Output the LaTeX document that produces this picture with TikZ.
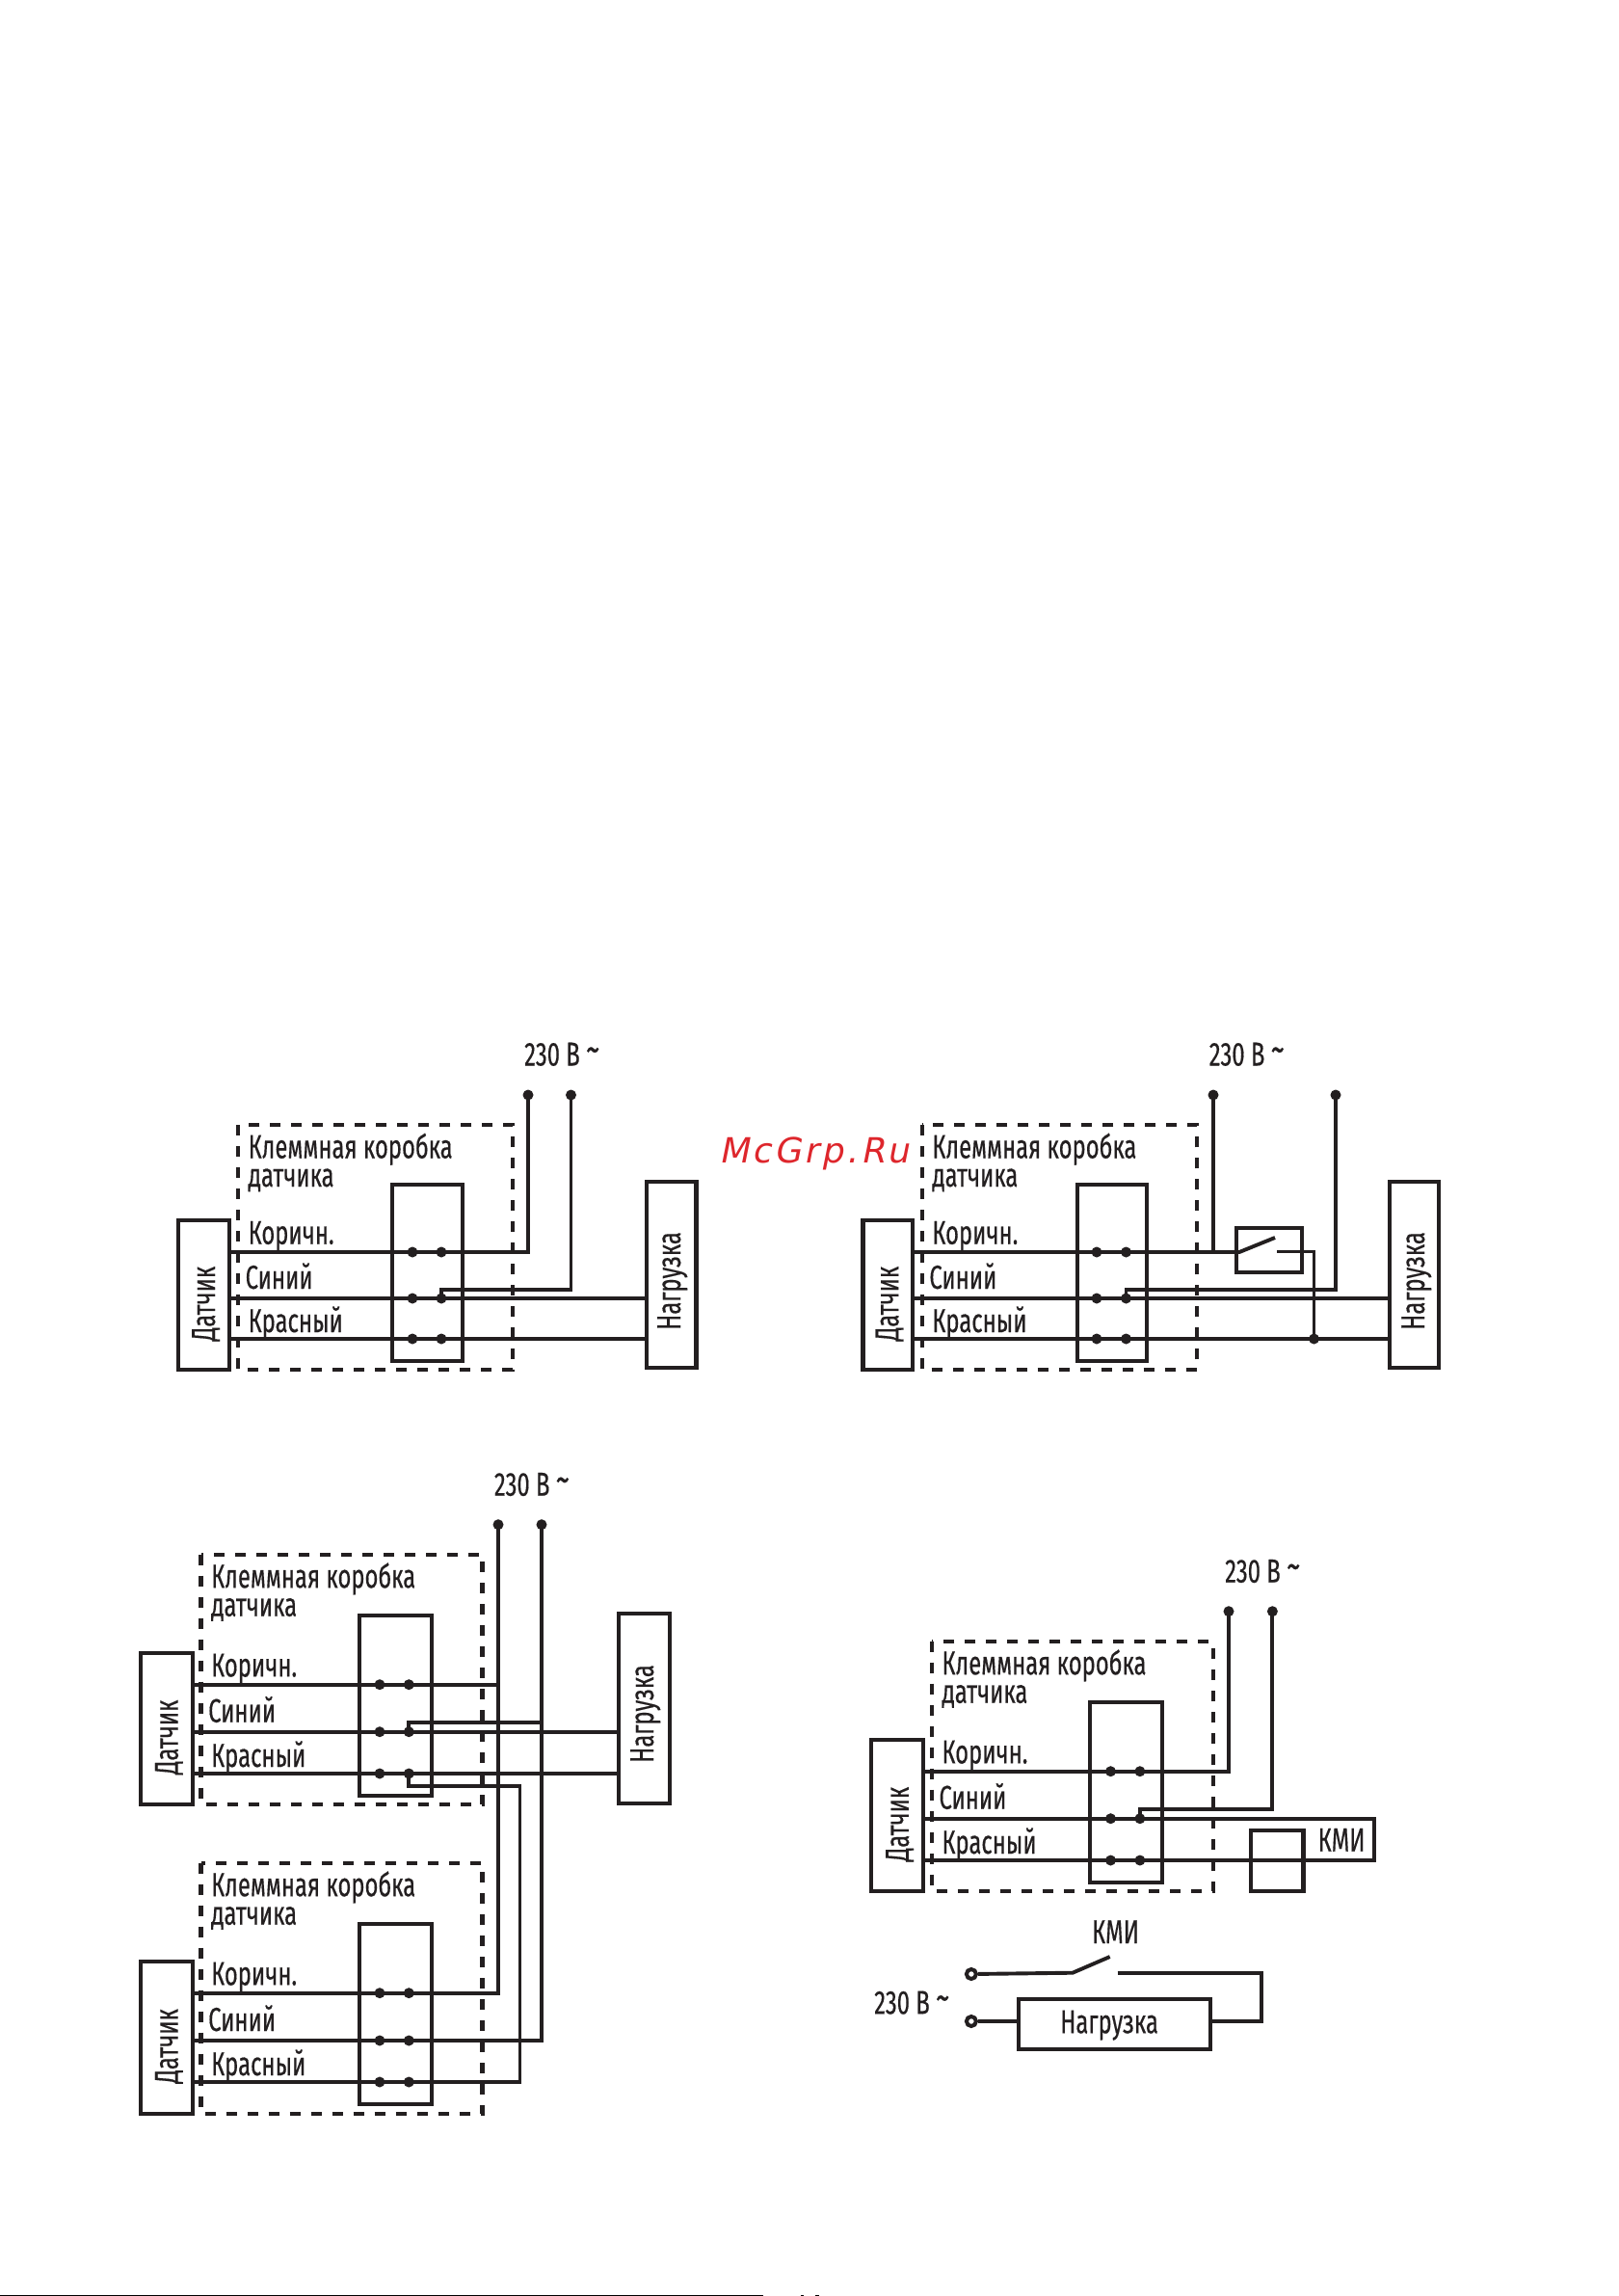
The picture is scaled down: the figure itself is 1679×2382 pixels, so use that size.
\documentclass[tikz,border=0pt]{standalone}
\usepackage{fontspec}
\setmainfont[FakeStretch=0.69,FakeBold=0.35]{Fira Sans}
\newfontfamily\markfont[LetterSpace=9]{DejaVu Sans}
\definecolor{ink}{RGB}{35,31,32}
\definecolor{markred}{RGB}{222,38,44}
\tikzset{
  wire/.style={draw=ink,line width=3.9pt,line join=miter},
  boxed/.style={draw=ink,line width=4.2pt,inner sep=0pt,outer sep=0pt},
  dashbox/.style={draw=ink,line width=4.2pt,dash pattern=on 11pt off 11pt},
  dot/.style={circle,fill=ink,inner sep=0pt,minimum size=11pt},
  ring/.style={circle,draw=ink,fill=white,line width=4pt,inner sep=0pt,minimum size=10pt},
  lab/.style={text=ink,font=\fontsize{34.5}{34.5}\selectfont,anchor=base west,inner sep=0pt},
  vlab/.style={text=ink,font=\fontsize{34.5}{34.5}\selectfont,anchor=base,inner sep=0pt,rotate=90},
}
\newcommand\volt{230 В \raisebox{3pt}{\fontsize{42}{42}\selectfont\textasciitilde}}
% frame in y: dash top/bottom, terminal top/bottom, sensor top/bottom, wires
\newcommand\yframe[9]{\def\yDt{#1}\def\yDb{#2}\def\yTt{#3}\def\yTb{#4}\def\ySt{#5}\def\ySb{#6}\def\yWa{#7}\def\yWb{#8}\def\yWc{#9}}
% prefix, sensor x1,x2, dash x1,x2, terminal x1,x2, dot x1,x2
\newcommand\sensorunit[9]{%
  \draw[dashbox] (#4,\yDt) rectangle (#5,\yDb);
  \node[boxed,minimum width={(#3-#2)*1pt},minimum height={(\ySb-\ySt)*1pt}] (#1-sensor) at ({(#2+#3)/2},{(\ySt+\ySb)/2}) {};
  \node[boxed,minimum width={(#7-#6)*1pt},minimum height={(\yTb-\yTt)*1pt}] (#1-term) at ({(#6+#7)/2},{(\yTt+\yTb)/2}) {};
  \node[lab] (#1-t1) at ({#4+10.5},{\yDt+34.5}) {Клеммная коробка};
  \node[lab] (#1-t2) at ({#4+10.5},{\yDt+64}) {датчика};
  \node[lab] (#1-t3) at ({#4+10.5},{\yWa-8.3}) {Коричн.};
  \node[lab] (#1-t4) at ({#4+7.5},{\yWb-10}) {Синий};
  \node[lab] (#1-t5) at ({#4+10.5},{\yWc-7}) {Красный};
  \node[vlab] (#1-t6) at ({#3-15},{(\ySt+\ySb)/2+9}) {Датчик};
  \coordinate (#1-s1) at (#3,\yWa);
  \coordinate (#1-s2) at (#3,\yWb);
  \coordinate (#1-s3) at (#3,\yWc);
  \node[dot] (#1-a1) at (#8,\yWa) {};
  \node[dot] (#1-b1) at (#9,\yWa) {};
  \node[dot] (#1-a2) at (#8,\yWb) {};
  \node[dot] (#1-b2) at (#9,\yWb) {};
  \node[dot] (#1-a3) at (#8,\yWc) {};
  \node[dot] (#1-b3) at (#9,\yWc) {};
  \draw[wire] (#1-s1) -- (#1-a1.center) -- (#1-b1.center);
  \draw[wire] (#1-s2) -- (#1-a2.center) -- (#1-b2.center);
  \draw[wire] (#1-s3) -- (#1-a3.center) -- (#1-b3.center);
}
\usetikzlibrary{calc}
\begin{document}
\begin{tikzpicture}[x=1pt,y=-1pt]
\useasboundingbox (0,0) rectangle (1679,2382);
\fill[white] (0,0) rectangle (1679,2382);

% ---------- diagram 1
\yframe{1167}{1421}{1229}{1412}{1266}{1421}{1299}{1347}{1389}
\sensorunit{a}{185}{238}{247}{532}{407}{480}{428}{458}
\node[boxed,minimum width=51.5pt,minimum height=193pt] (a-load) at (696.7,1322.5) {};
\node[vlab] (a-lt) at (706,1329) {Нагрузка};
\node[lab] (a-v) at (544,1105.5) {\volt};
\node[dot] (a-p1) at (548,1136) {};
\node[dot] (a-p2) at (592.5,1136) {};
\draw[wire] (a-b1.center) -- (a-b1.center -| a-p1) -- (a-p1.center);
\draw[wire] (a-b2.center) -- (a-b2.center -| a-load.west);
\draw[wire] (a-b3.center) -- (a-b3.center -| a-load.west);
\coordinate (a-r) at (458,1338);
\draw[wire] (a-b2.center) -- (a-r) -- (a-r -| a-p2) -- (a-p2.center);

% ---------- watermark
\node[anchor=base west,inner sep=0pt,text=markred,font=\markfont\fontsize{36}{36}\selectfont\addfontfeature{FakeSlant=0.2}] (wm) at (746,1206) {McGrp.Ru};

% ---------- diagram 2
\yframe{1167}{1421}{1229}{1412}{1266}{1421}{1299}{1347}{1389}
\sensorunit{b}{895.5}{947.3}{956.7}{1242}{1118}{1190}{1138}{1168.5}
\node[boxed,minimum width=51pt,minimum height=193pt] (b-load) at (1467.5,1322.5) {};
\node[vlab] (b-lt) at (1478,1329) {Нагрузка};
\node[lab] (b-v) at (1254.6,1105.5) {\volt};
\node[dot] (b-p1) at (1259,1136) {};
\node[dot] (b-p2) at (1386,1136) {};
\node[boxed,minimum width=68pt,minimum height=46pt] (b-sw) at (1317,1297) {};
\coordinate (b-c1) at (1286,1299);
\coordinate (b-c2) at (1323,1284);
\coordinate (b-c3) at (1325,1298.5);
\coordinate (b-c4) at (1363.5,1298.5);
\node[dot] (b-j) at (1363.5,1389) {};
\draw[wire] (b-b1.center) -- (b-c1) -- (b-c2);
\draw[wire] (b-c1 -| b-p1) -- (b-p1.center);
\draw[wire] (b-c3) -- (b-c4) -- (b-j.center);
\draw[wire] (b-b2.center) -- (b-b2.center -| b-load.west);
\draw[wire] (b-b3.center) -- (b-b3.center -| b-load.west);
\coordinate (b-r) at (1168.5,1338);
\draw[wire] (b-b2.center) -- (b-r) -- (b-r -| b-p2) -- (b-p2.center);

% ---------- diagram 3 (two units)
\yframe{1612.7}{1871.7}{1675.7}{1862.7}{1714.7}{1872}{1747.7}{1796.7}{1840}
\sensorunit{c}{146}{199.6}{208.5}{500.5}{373}{447.6}{394}{424.3}
\yframe{1932.7}{2192.7}{1995.7}{2183.3}{2034.7}{2193}{2067.7}{2117}{2160}
\sensorunit{d}{146}{199.6}{208.5}{500.5}{373}{447.6}{394}{424.3}
\node[boxed,minimum width=53pt,minimum height=197pt] (c-load) at (668.2,1772.5) {};
\node[vlab] (c-lt) at (678,1778) {Нагрузка};
\node[lab] (c-v) at (512.7,1551.7) {\volt};
\node[dot] (c-p1) at (517,1581.7) {};
\node[dot] (c-p2) at (562,1581.7) {};
\draw[wire] (c-b1.center) -- (c-b1.center -| c-p1);
\draw[wire] (c-b2.center) -- (c-b2.center -| c-load.west);
\draw[wire] (c-b3.center) -- (c-b3.center -| c-load.west);
\draw[wire] (d-b1.center) -- (d-b1.center -| c-p1) -- (c-p1.center);
\draw[wire] (d-b2.center) -- (d-b2.center -| c-p2) -- (c-p2.center);
\coordinate (c-r) at (424.3,1787.3);
\draw[wire] (c-b2.center) -- (c-r) -- (c-r -| c-p2);
\coordinate (c-q) at (424.3,1853.3);
\coordinate (c-q2) at (539.5,1853.3);
\draw[wire] (c-b3.center) -- (c-q) -- (c-q2) -- (c-q2 |- d-b3.center) -- (d-b3.center);

% ---------- diagram 4 upper
\yframe{1702.7}{1961.7}{1765.7}{1952.7}{1804.7}{1962.3}{1837.7}{1886.7}{1930}
\sensorunit{e}{903.6}{957.9}{966.8}{1258.6}{1131}{1205.7}{1152.5}{1182.9}
\node[lab] (e-v) at (1271,1641.7) {\volt};
\node[dot] (e-p1) at (1275,1671.7) {};
\node[dot] (e-p2) at (1320.4,1671.7) {};
\node[boxed,minimum width=54.5pt,minimum height=62.4pt] (e-coil) at (1325.2,1930.5) {};
\node[lab] (e-k) at (1367.5,1920.7) {КМИ};
\draw[wire] (e-b1.center) -- (e-b1.center -| e-p1) -- (e-p1.center);
\coordinate (e-r) at (1182.9,1876.7);
\draw[wire] (e-b2.center) -- (e-r) -- (e-r -| e-p2) -- (e-p2.center);
\coordinate (e-c1) at (1426.4,1886.7);
\coordinate (e-c2) at (1426.4,1930);
\draw[wire] (e-b2.center) -- (e-c1) -- (e-c2) -- (e-b3.center);

% ---------- diagram 4 lower
\node[lab] (f-k) at (1132.9,2016) {КМИ};
\node[lab] (f-v) at (907,2089.3) {\volt};
\node[ring] (f-r1) at (1007.9,2048) {};
\node[ring] (f-r2) at (1007.9,2097) {};
\node[boxed,minimum width=199pt,minimum height=52.3pt] (f-load) at (1156.2,2099.9) {};
\node[lab] (f-lt) at (1100,2109.3) {Нагрузка};
\coordinate (f-a) at (1113,2046.7);
\coordinate (f-b) at (1151.7,2030);
\coordinate (f-c) at (1159.6,2046.7);
\coordinate (f-d) at (1309,2046.7);
\coordinate (f-e) at (1309,2097);
\draw[wire] (f-r1) -- (f-a) -- (f-b);
\draw[wire] (f-c) -- (f-d) -- (f-e) -- (f-e -| f-load.east);
\draw[wire] (f-r2) -- (f-r2 -| f-load.west);

% ---------- page edge
\fill[black] (0,2380.5) rectangle (792,2382);
\fill[black] (831,2381) rectangle (834,2382);
\fill[black] (846,2381) rectangle (850,2382);
\end{tikzpicture}
\end{document}
